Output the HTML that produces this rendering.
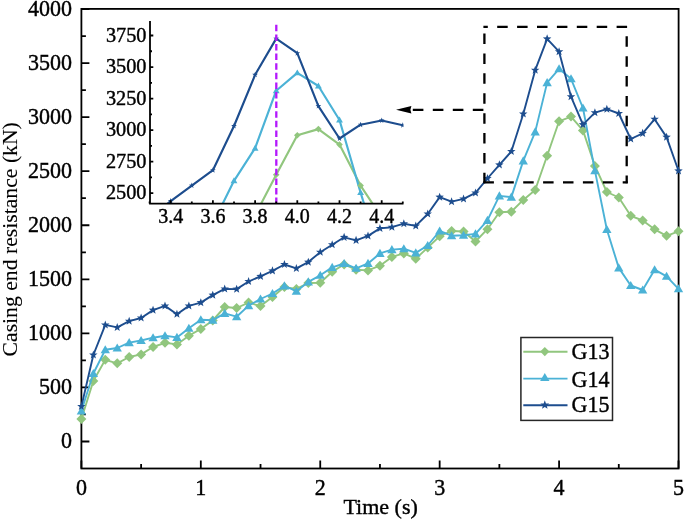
<!DOCTYPE html><html><head><meta charset="utf-8"><style>html,body{margin:0;padding:0;background:#fff;}svg{display:block;will-change:transform;}text{font-family:"Liberation Serif",serif;fill:#000;stroke:#000;stroke-width:0.4px;}</style></head><body>
<svg width="685" height="520" viewBox="0 0 685 520">
<rect width="685" height="520" fill="#fff"/>
<rect x="81.4" y="8.9" width="597.2" height="459.6" fill="none" stroke="#000" stroke-width="1.8"/>
<path d="M81.4 441.5H89.4M81.4 414.47H85.9M81.4 387.44H89.4M81.4 360.41H85.9M81.4 333.38H89.4M81.4 306.34H85.9M81.4 279.31H89.4M81.4 252.28H85.9M81.4 225.25H89.4M81.4 198.22H85.9M81.4 171.19H89.4M81.4 144.16H85.9M81.4 117.12H89.4M81.4 90.09H85.9M81.4 63.06H89.4M81.4 36.03H85.9M81.4 9H89.4M81.4 468.5V460.5M141.11 468.5V464M200.82 468.5V460.5M260.53 468.5V464M320.24 468.5V460.5M379.95 468.5V464M439.66 468.5V460.5M499.37 468.5V464M559.08 468.5V460.5M618.79 468.5V464M678.5 468.5V460.5" stroke="#000" stroke-width="1.8" fill="none"/>
<polyline fill="none" stroke-linejoin="round" stroke-width="1.9" stroke="#91c67e" points="81.4,419 93.34,381 105.28,359.8 117.23,363.3 129.17,357 141.11,354.4 153.05,347 164.99,342.8 176.94,344.4 188.88,335.8 200.82,328.9 212.76,320.5 224.7,307 236.65,308 248.59,302.6 260.53,306.1 272.47,297 284.41,287.1 296.36,288.9 308.3,283 320.24,282.7 332.18,271.7 344.12,264.4 356.07,269.7 368.01,270.4 379.95,265.7 391.89,256.9 403.83,253.4 415.78,258.7 427.72,247.6 439.66,236.2 451.6,231 463.54,231.5 475.49,241.5 487.43,229.2 499.37,212.2 511.31,211.7 523.25,199.9 535.2,190 547.14,155.8 559.08,121.3 571.02,116.6 582.96,130.4 594.91,165.9 606.85,192 618.79,197.5 630.73,215.8 642.67,220.5 654.62,229.3 666.56,235.8 678.5,231.3"/>
<g fill="#91c67e">
<path d="M81.4 414L86.4 419L81.4 424L76.4 419Z"/>
<path d="M93.34 376L98.34 381L93.34 386L88.34 381Z"/>
<path d="M105.28 354.8L110.28 359.8L105.28 364.8L100.28 359.8Z"/>
<path d="M117.23 358.3L122.23 363.3L117.23 368.3L112.23 363.3Z"/>
<path d="M129.17 352L134.17 357L129.17 362L124.17 357Z"/>
<path d="M141.11 349.4L146.11 354.4L141.11 359.4L136.11 354.4Z"/>
<path d="M153.05 342L158.05 347L153.05 352L148.05 347Z"/>
<path d="M164.99 337.8L169.99 342.8L164.99 347.8L159.99 342.8Z"/>
<path d="M176.94 339.4L181.94 344.4L176.94 349.4L171.94 344.4Z"/>
<path d="M188.88 330.8L193.88 335.8L188.88 340.8L183.88 335.8Z"/>
<path d="M200.82 323.9L205.82 328.9L200.82 333.9L195.82 328.9Z"/>
<path d="M212.76 315.5L217.76 320.5L212.76 325.5L207.76 320.5Z"/>
<path d="M224.7 302L229.7 307L224.7 312L219.7 307Z"/>
<path d="M236.65 303L241.65 308L236.65 313L231.65 308Z"/>
<path d="M248.59 297.6L253.59 302.6L248.59 307.6L243.59 302.6Z"/>
<path d="M260.53 301.1L265.53 306.1L260.53 311.1L255.53 306.1Z"/>
<path d="M272.47 292L277.47 297L272.47 302L267.47 297Z"/>
<path d="M284.41 282.1L289.41 287.1L284.41 292.1L279.41 287.1Z"/>
<path d="M296.36 283.9L301.36 288.9L296.36 293.9L291.36 288.9Z"/>
<path d="M308.3 278L313.3 283L308.3 288L303.3 283Z"/>
<path d="M320.24 277.7L325.24 282.7L320.24 287.7L315.24 282.7Z"/>
<path d="M332.18 266.7L337.18 271.7L332.18 276.7L327.18 271.7Z"/>
<path d="M344.12 259.4L349.12 264.4L344.12 269.4L339.12 264.4Z"/>
<path d="M356.07 264.7L361.07 269.7L356.07 274.7L351.07 269.7Z"/>
<path d="M368.01 265.4L373.01 270.4L368.01 275.4L363.01 270.4Z"/>
<path d="M379.95 260.7L384.95 265.7L379.95 270.7L374.95 265.7Z"/>
<path d="M391.89 251.9L396.89 256.9L391.89 261.9L386.89 256.9Z"/>
<path d="M403.83 248.4L408.83 253.4L403.83 258.4L398.83 253.4Z"/>
<path d="M415.78 253.7L420.78 258.7L415.78 263.7L410.78 258.7Z"/>
<path d="M427.72 242.6L432.72 247.6L427.72 252.6L422.72 247.6Z"/>
<path d="M439.66 231.2L444.66 236.2L439.66 241.2L434.66 236.2Z"/>
<path d="M451.6 226L456.6 231L451.6 236L446.6 231Z"/>
<path d="M463.54 226.5L468.54 231.5L463.54 236.5L458.54 231.5Z"/>
<path d="M475.49 236.5L480.49 241.5L475.49 246.5L470.49 241.5Z"/>
<path d="M487.43 224.2L492.43 229.2L487.43 234.2L482.43 229.2Z"/>
<path d="M499.37 207.2L504.37 212.2L499.37 217.2L494.37 212.2Z"/>
<path d="M511.31 206.7L516.31 211.7L511.31 216.7L506.31 211.7Z"/>
<path d="M523.25 194.9L528.25 199.9L523.25 204.9L518.25 199.9Z"/>
<path d="M535.2 185L540.2 190L535.2 195L530.2 190Z"/>
<path d="M547.14 150.8L552.14 155.8L547.14 160.8L542.14 155.8Z"/>
<path d="M559.08 116.3L564.08 121.3L559.08 126.3L554.08 121.3Z"/>
<path d="M571.02 111.6L576.02 116.6L571.02 121.6L566.02 116.6Z"/>
<path d="M582.96 125.4L587.96 130.4L582.96 135.4L577.96 130.4Z"/>
<path d="M594.91 160.9L599.91 165.9L594.91 170.9L589.91 165.9Z"/>
<path d="M606.85 187L611.85 192L606.85 197L601.85 192Z"/>
<path d="M618.79 192.5L623.79 197.5L618.79 202.5L613.79 197.5Z"/>
<path d="M630.73 210.8L635.73 215.8L630.73 220.8L625.73 215.8Z"/>
<path d="M642.67 215.5L647.67 220.5L642.67 225.5L637.67 220.5Z"/>
<path d="M654.62 224.3L659.62 229.3L654.62 234.3L649.62 229.3Z"/>
<path d="M666.56 230.8L671.56 235.8L666.56 240.8L661.56 235.8Z"/>
<path d="M678.5 226.3L683.5 231.3L678.5 236.3L673.5 231.3Z"/>
</g>
<polyline fill="none" stroke-linejoin="round" stroke-width="1.9" stroke="#4bb2d6" points="81.4,411 93.34,373.5 105.28,349.8 117.23,348 129.17,342.6 141.11,340.5 153.05,337.7 164.99,335.8 176.94,337.4 188.88,328.3 200.82,319.7 212.76,320.2 224.7,313.4 236.65,316.7 248.59,305.6 260.53,299 272.47,293.5 284.41,285.9 296.36,291.2 308.3,281.9 320.24,275.3 332.18,267.4 344.12,263.5 356.07,268.3 368.01,263.4 379.95,253.4 391.89,249.6 403.83,248.7 415.78,252.9 427.72,245.5 439.66,231 451.6,235.7 463.54,235.3 475.49,233.9 487.43,220.4 499.37,195.9 511.31,197.1 523.25,160.9 535.2,131.9 547.14,82.6 559.08,68.8 571.02,78.8 582.96,108 594.91,170.6 606.85,229.5 618.79,267.9 630.73,285.5 642.67,290 654.62,269.7 666.56,276.3 678.5,288.8"/>
<g fill="#4bb2d6">
<path d="M81.4 406.45L86.08 414.55L76.72 414.55Z"/>
<path d="M93.34 368.95L98.02 377.05L88.66 377.05Z"/>
<path d="M105.28 345.25L109.96 353.35L100.6 353.35Z"/>
<path d="M117.23 343.45L121.91 351.55L112.55 351.55Z"/>
<path d="M129.17 338.05L133.85 346.15L124.49 346.15Z"/>
<path d="M141.11 335.95L145.79 344.05L136.43 344.05Z"/>
<path d="M153.05 333.15L157.73 341.25L148.37 341.25Z"/>
<path d="M164.99 331.25L169.67 339.35L160.31 339.35Z"/>
<path d="M176.94 332.85L181.62 340.95L172.26 340.95Z"/>
<path d="M188.88 323.75L193.56 331.85L184.2 331.85Z"/>
<path d="M200.82 315.15L205.5 323.25L196.14 323.25Z"/>
<path d="M212.76 315.65L217.44 323.75L208.08 323.75Z"/>
<path d="M224.7 308.85L229.38 316.95L220.02 316.95Z"/>
<path d="M236.65 312.15L241.33 320.25L231.97 320.25Z"/>
<path d="M248.59 301.05L253.27 309.15L243.91 309.15Z"/>
<path d="M260.53 294.45L265.21 302.55L255.85 302.55Z"/>
<path d="M272.47 288.95L277.15 297.05L267.79 297.05Z"/>
<path d="M284.41 281.35L289.09 289.45L279.73 289.45Z"/>
<path d="M296.36 286.65L301.04 294.75L291.68 294.75Z"/>
<path d="M308.3 277.35L312.98 285.45L303.62 285.45Z"/>
<path d="M320.24 270.75L324.92 278.85L315.56 278.85Z"/>
<path d="M332.18 262.85L336.86 270.95L327.5 270.95Z"/>
<path d="M344.12 258.95L348.8 267.05L339.44 267.05Z"/>
<path d="M356.07 263.75L360.75 271.85L351.39 271.85Z"/>
<path d="M368.01 258.85L372.69 266.95L363.33 266.95Z"/>
<path d="M379.95 248.85L384.63 256.95L375.27 256.95Z"/>
<path d="M391.89 245.05L396.57 253.15L387.21 253.15Z"/>
<path d="M403.83 244.15L408.51 252.25L399.15 252.25Z"/>
<path d="M415.78 248.35L420.46 256.45L411.1 256.45Z"/>
<path d="M427.72 240.95L432.4 249.05L423.04 249.05Z"/>
<path d="M439.66 226.45L444.34 234.55L434.98 234.55Z"/>
<path d="M451.6 231.15L456.28 239.25L446.92 239.25Z"/>
<path d="M463.54 230.75L468.22 238.85L458.86 238.85Z"/>
<path d="M475.49 229.35L480.17 237.45L470.81 237.45Z"/>
<path d="M487.43 215.85L492.11 223.95L482.75 223.95Z"/>
<path d="M499.37 191.35L504.05 199.45L494.69 199.45Z"/>
<path d="M511.31 192.55L515.99 200.65L506.63 200.65Z"/>
<path d="M523.25 156.35L527.93 164.45L518.57 164.45Z"/>
<path d="M535.2 127.35L539.88 135.45L530.52 135.45Z"/>
<path d="M547.14 78.05L551.82 86.15L542.46 86.15Z"/>
<path d="M559.08 64.25L563.76 72.35L554.4 72.35Z"/>
<path d="M571.02 74.25L575.7 82.35L566.34 82.35Z"/>
<path d="M582.96 103.45L587.64 111.55L578.28 111.55Z"/>
<path d="M594.91 166.05L599.59 174.15L590.23 174.15Z"/>
<path d="M606.85 224.95L611.53 233.05L602.17 233.05Z"/>
<path d="M618.79 263.35L623.47 271.45L614.11 271.45Z"/>
<path d="M630.73 280.95L635.41 289.05L626.05 289.05Z"/>
<path d="M642.67 285.45L647.35 293.55L637.99 293.55Z"/>
<path d="M654.62 265.15L659.3 273.25L649.94 273.25Z"/>
<path d="M666.56 271.75L671.24 279.85L661.88 279.85Z"/>
<path d="M678.5 284.25L683.18 292.35L673.82 292.35Z"/>
</g>
<polyline fill="none" stroke-linejoin="round" stroke-width="1.9" stroke="#1d4d8e" points="81.4,406.4 93.34,355 105.28,324.9 117.23,327.4 129.17,321.2 141.11,318 153.05,310.1 164.99,305.9 176.94,314.2 188.88,305.9 200.82,302.6 212.76,295.1 224.7,288.9 236.65,289.1 248.59,281.5 260.53,276.3 272.47,270.8 284.41,264.5 296.36,268.4 308.3,262.1 320.24,252.2 332.18,244.7 344.12,237.3 356.07,240.3 368.01,235.9 379.95,228.4 391.89,227.2 403.83,223.7 415.78,225.9 427.72,214 439.66,197.1 451.6,201.7 463.54,198.9 475.49,192.9 487.43,178.5 499.37,164.8 511.31,151.5 523.25,114 535.2,70.2 547.14,38.8 559.08,51.7 571.02,96.7 582.96,124.6 594.91,112.7 606.85,109.2 618.79,113.5 630.73,139 642.67,133.3 654.62,119.2 666.56,137.1 678.5,170.8"/>
<g fill="#1d4d8e">
<path d="M81.4 401.95L82.5 404.89L85.63 405.02L83.18 406.98L84.02 410L81.4 408.27L78.78 410L79.62 406.98L77.17 405.02L80.3 404.89Z"/>
<path d="M93.34 350.55L94.44 353.49L97.57 353.62L95.12 355.58L95.96 358.6L93.34 356.87L90.73 358.6L91.56 355.58L89.11 353.62L92.24 353.49Z"/>
<path d="M105.28 320.45L106.38 323.39L109.52 323.52L107.06 325.48L107.9 328.5L105.28 326.77L102.67 328.5L103.51 325.48L101.05 323.52L104.19 323.39Z"/>
<path d="M117.23 322.95L118.32 325.89L121.46 326.02L119 327.98L119.84 331L117.23 329.27L114.61 331L115.45 327.98L112.99 326.02L116.13 325.89Z"/>
<path d="M129.17 316.75L130.27 319.69L133.4 319.82L130.95 321.78L131.78 324.8L129.17 323.07L126.55 324.8L127.39 321.78L124.94 319.82L128.07 319.69Z"/>
<path d="M141.11 313.55L142.21 316.49L145.34 316.62L142.89 318.58L143.73 321.6L141.11 319.87L138.49 321.6L139.33 318.58L136.88 316.62L140.01 316.49Z"/>
<path d="M153.05 305.65L154.15 308.59L157.28 308.72L154.83 310.68L155.67 313.7L153.05 311.97L150.44 313.7L151.27 310.68L148.82 308.72L151.95 308.59Z"/>
<path d="M164.99 301.45L166.09 304.39L169.23 304.52L166.77 306.48L167.61 309.5L164.99 307.77L162.38 309.5L163.22 306.48L160.76 304.52L163.9 304.39Z"/>
<path d="M176.94 309.75L178.03 312.69L181.17 312.82L178.71 314.78L179.55 317.8L176.94 316.07L174.32 317.8L175.16 314.78L172.7 312.82L175.84 312.69Z"/>
<path d="M188.88 301.45L189.98 304.39L193.11 304.52L190.66 306.48L191.49 309.5L188.88 307.77L186.26 309.5L187.1 306.48L184.65 304.52L187.78 304.39Z"/>
<path d="M200.82 298.15L201.92 301.09L205.05 301.22L202.6 303.18L203.44 306.2L200.82 304.47L198.2 306.2L199.04 303.18L196.59 301.22L199.72 301.09Z"/>
<path d="M212.76 290.65L213.86 293.59L216.99 293.72L214.54 295.68L215.38 298.7L212.76 296.97L210.15 298.7L210.98 295.68L208.53 293.72L211.66 293.59Z"/>
<path d="M224.7 284.45L225.8 287.39L228.94 287.52L226.48 289.48L227.32 292.5L224.7 290.77L222.09 292.5L222.93 289.48L220.47 287.52L223.61 287.39Z"/>
<path d="M236.65 284.65L237.74 287.59L240.88 287.72L238.42 289.68L239.26 292.7L236.65 290.97L234.03 292.7L234.87 289.68L232.41 287.72L235.55 287.59Z"/>
<path d="M248.59 277.05L249.69 279.99L252.82 280.12L250.37 282.08L251.2 285.1L248.59 283.37L245.97 285.1L246.81 282.08L244.36 280.12L247.49 279.99Z"/>
<path d="M260.53 271.85L261.63 274.79L264.76 274.92L262.31 276.88L263.15 279.9L260.53 278.17L257.91 279.9L258.75 276.88L256.3 274.92L259.43 274.79Z"/>
<path d="M272.47 266.35L273.57 269.29L276.7 269.42L274.25 271.38L275.09 274.4L272.47 272.67L269.86 274.4L270.69 271.38L268.24 269.42L271.37 269.29Z"/>
<path d="M284.41 260.05L285.51 262.99L288.65 263.12L286.19 265.08L287.03 268.1L284.41 266.37L281.8 268.1L282.64 265.08L280.18 263.12L283.32 262.99Z"/>
<path d="M296.36 263.95L297.45 266.89L300.59 267.02L298.13 268.98L298.97 272L296.36 270.27L293.74 272L294.58 268.98L292.12 267.02L295.26 266.89Z"/>
<path d="M308.3 257.65L309.4 260.59L312.53 260.72L310.08 262.68L310.91 265.7L308.3 263.97L305.68 265.7L306.52 262.68L304.07 260.72L307.2 260.59Z"/>
<path d="M320.24 247.75L321.34 250.69L324.47 250.82L322.02 252.78L322.86 255.8L320.24 254.07L317.62 255.8L318.46 252.78L316.01 250.82L319.14 250.69Z"/>
<path d="M332.18 240.25L333.28 243.19L336.41 243.32L333.96 245.28L334.8 248.3L332.18 246.57L329.57 248.3L330.4 245.28L327.95 243.32L331.08 243.19Z"/>
<path d="M344.12 232.85L345.22 235.79L348.36 235.92L345.9 237.88L346.74 240.9L344.12 239.17L341.51 240.9L342.35 237.88L339.89 235.92L343.03 235.79Z"/>
<path d="M356.07 235.85L357.16 238.79L360.3 238.92L357.84 240.88L358.68 243.9L356.07 242.17L353.45 243.9L354.29 240.88L351.83 238.92L354.97 238.79Z"/>
<path d="M368.01 231.45L369.11 234.39L372.24 234.52L369.79 236.48L370.62 239.5L368.01 237.77L365.39 239.5L366.23 236.48L363.78 234.52L366.91 234.39Z"/>
<path d="M379.95 223.95L381.05 226.89L384.18 227.02L381.73 228.98L382.57 232L379.95 230.27L377.33 232L378.17 228.98L375.72 227.02L378.85 226.89Z"/>
<path d="M391.89 222.75L392.99 225.69L396.12 225.82L393.67 227.78L394.51 230.8L391.89 229.07L389.28 230.8L390.11 227.78L387.66 225.82L390.79 225.69Z"/>
<path d="M403.83 219.25L404.93 222.19L408.07 222.32L405.61 224.28L406.45 227.3L403.83 225.57L401.22 227.3L402.06 224.28L399.6 222.32L402.74 222.19Z"/>
<path d="M415.78 221.45L416.87 224.39L420.01 224.52L417.55 226.48L418.39 229.5L415.78 227.77L413.16 229.5L414 226.48L411.54 224.52L414.68 224.39Z"/>
<path d="M427.72 209.55L428.82 212.49L431.95 212.62L429.5 214.58L430.33 217.6L427.72 215.87L425.1 217.6L425.94 214.58L423.49 212.62L426.62 212.49Z"/>
<path d="M439.66 192.65L440.76 195.59L443.89 195.72L441.44 197.68L442.28 200.7L439.66 198.97L437.04 200.7L437.88 197.68L435.43 195.72L438.56 195.59Z"/>
<path d="M451.6 197.25L452.7 200.19L455.83 200.32L453.38 202.28L454.22 205.3L451.6 203.57L448.99 205.3L449.82 202.28L447.37 200.32L450.5 200.19Z"/>
<path d="M463.54 194.45L464.64 197.39L467.78 197.52L465.32 199.48L466.16 202.5L463.54 200.77L460.93 202.5L461.77 199.48L459.31 197.52L462.45 197.39Z"/>
<path d="M475.49 188.45L476.58 191.39L479.72 191.52L477.26 193.48L478.1 196.5L475.49 194.77L472.87 196.5L473.71 193.48L471.25 191.52L474.39 191.39Z"/>
<path d="M487.43 174.05L488.53 176.99L491.66 177.12L489.21 179.08L490.04 182.1L487.43 180.37L484.81 182.1L485.65 179.08L483.2 177.12L486.33 176.99Z"/>
<path d="M499.37 160.35L500.47 163.29L503.6 163.42L501.15 165.38L501.99 168.4L499.37 166.67L496.75 168.4L497.59 165.38L495.14 163.42L498.27 163.29Z"/>
<path d="M511.31 147.05L512.41 149.99L515.54 150.12L513.09 152.08L513.93 155.1L511.31 153.37L508.7 155.1L509.53 152.08L507.08 150.12L510.21 149.99Z"/>
<path d="M523.25 109.55L524.35 112.49L527.49 112.62L525.03 114.58L525.87 117.6L523.25 115.87L520.64 117.6L521.48 114.58L519.02 112.62L522.16 112.49Z"/>
<path d="M535.2 65.75L536.29 68.69L539.43 68.82L536.97 70.78L537.81 73.8L535.2 72.07L532.58 73.8L533.42 70.78L530.96 68.82L534.1 68.69Z"/>
<path d="M547.14 34.35L548.24 37.29L551.37 37.42L548.92 39.38L549.75 42.4L547.14 40.67L544.52 42.4L545.36 39.38L542.91 37.42L546.04 37.29Z"/>
<path d="M559.08 47.25L560.18 50.19L563.31 50.32L560.86 52.28L561.7 55.3L559.08 53.57L556.46 55.3L557.3 52.28L554.85 50.32L557.98 50.19Z"/>
<path d="M571.02 92.25L572.12 95.19L575.25 95.32L572.8 97.28L573.64 100.3L571.02 98.57L568.41 100.3L569.24 97.28L566.79 95.32L569.92 95.19Z"/>
<path d="M582.96 120.15L584.06 123.09L587.2 123.22L584.74 125.18L585.58 128.2L582.96 126.47L580.35 128.2L581.19 125.18L578.73 123.22L581.87 123.09Z"/>
<path d="M594.91 108.25L596 111.19L599.14 111.32L596.68 113.28L597.52 116.3L594.91 114.57L592.29 116.3L593.13 113.28L590.67 111.32L593.81 111.19Z"/>
<path d="M606.85 104.75L607.95 107.69L611.08 107.82L608.63 109.78L609.46 112.8L606.85 111.07L604.23 112.8L605.07 109.78L602.62 107.82L605.75 107.69Z"/>
<path d="M618.79 109.05L619.89 111.99L623.02 112.12L620.57 114.08L621.41 117.1L618.79 115.37L616.17 117.1L617.01 114.08L614.56 112.12L617.69 111.99Z"/>
<path d="M630.73 134.55L631.83 137.49L634.96 137.62L632.51 139.58L633.35 142.6L630.73 140.87L628.12 142.6L628.95 139.58L626.5 137.62L629.63 137.49Z"/>
<path d="M642.67 128.85L643.77 131.79L646.91 131.92L644.45 133.88L645.29 136.9L642.67 135.17L640.06 136.9L640.9 133.88L638.44 131.92L641.58 131.79Z"/>
<path d="M654.62 114.75L655.71 117.69L658.85 117.82L656.39 119.78L657.23 122.8L654.62 121.07L652 122.8L652.84 119.78L650.38 117.82L653.52 117.69Z"/>
<path d="M666.56 132.65L667.66 135.59L670.79 135.72L668.34 137.68L669.17 140.7L666.56 138.97L663.94 140.7L664.78 137.68L662.33 135.72L665.46 135.59Z"/>
<path d="M678.5 166.35L679.6 169.29L682.73 169.42L680.28 171.38L681.12 174.4L678.5 172.67L675.88 174.4L676.72 171.38L674.27 169.42L677.4 169.29Z"/>
</g>
<g font-size="22" text-anchor="end" style="stroke-width:0.55px">
<text transform="translate(72 448.1) scale(1 1.04)">0</text>
<text transform="translate(72 394.04) scale(1 1.04)">500</text>
<text transform="translate(72 339.98) scale(1 1.04)">1000</text>
<text transform="translate(72 285.91) scale(1 1.04)">1500</text>
<text transform="translate(72 231.85) scale(1 1.04)">2000</text>
<text transform="translate(72 177.79) scale(1 1.04)">2500</text>
<text transform="translate(72 123.72) scale(1 1.04)">3000</text>
<text transform="translate(72 69.66) scale(1 1.04)">3500</text>
<text transform="translate(72 15.6) scale(1 1.04)">4000</text>
</g>
<g font-size="22" text-anchor="middle">
<text transform="translate(81.4 495) scale(1 1.06)">0</text>
<text transform="translate(200.82 495) scale(1 1.06)">1</text>
<text transform="translate(320.24 495) scale(1 1.06)">2</text>
<text transform="translate(439.66 495) scale(1 1.06)">3</text>
<text transform="translate(559.08 495) scale(1 1.06)">4</text>
<text transform="translate(678.5 495) scale(1 1.06)">5</text>
</g>
<text font-size="22" text-anchor="middle" x="380.6" y="514.3" style="stroke-width:0.4px">Time (s)</text>
<text font-size="21.7" text-anchor="middle" style="stroke-width:0.1px" transform="translate(16.6 239.3) rotate(-90)">Casing end resistance (kN)</text>
<g stroke="#000" stroke-width="2.3" fill="none">
<path d="M627.1 26.85H483.4" stroke-dasharray="10.5 9.4"/>
<path d="M484.4 183.35V26.85" stroke-dasharray="10.5 9.4"/>
<path d="M483.4 182.35H627.7" stroke-dasharray="10.5 9.4"/>
<path d="M626.7 26.85V183.35" stroke-dasharray="10.5 9.4" stroke-dashoffset="10.5"/>
<path d="M483.4 109.8H411" stroke-width="2.2" stroke-dasharray="10.6 9.4"/>
</g>
<path d="M396 109.8L411.4 106L410.4 109.8L411.4 113.6Z" fill="#000"/>
<defs><clipPath id="ic"><rect x="150" y="16" width="253.5" height="187.6"/></clipPath></defs>
<g clip-path="url(#ic)" fill="none" stroke-width="2.15" stroke-linejoin="round">
<polyline stroke="#91c67e" points="149.6,275.24 170.7,260.89 191.8,241.05 212.9,240.47 234,226.7 255.1,215.15 276.2,174.8 297.3,135.3 318.4,129.1 339.5,144.6 360.6,185.6 381.7,217.48 402.8,223.9"/>
<polyline stroke="#4bb2d6" points="149.6,266.37 170.7,250.62 191.8,222.03 212.9,223.43 234,180.8 255.1,148.2 276.2,90.7 297.3,72.9 318.4,86 339.5,120 360.6,192.6 381.7,261.24 402.8,306.04"/>
<polyline stroke="#1d4d8e" points="149.6,218.53 170.7,201.1 191.8,185.6 212.9,170.2 234,126 255.1,74.8 276.2,38.6 297.3,53.2 318.4,106.1 339.5,138.5 360.6,124.7 381.7,120.5 402.8,125.3"/>
</g>
<g clip-path="url(#ic)">
<g fill="#91c67e">
<path d="M276.2 171.5L279.5 174.8L276.2 178.1L272.9 174.8Z"/>
<path d="M297.3 132L300.6 135.3L297.3 138.6L294 135.3Z"/>
<path d="M318.4 125.8L321.7 129.1L318.4 132.4L315.1 129.1Z"/>
<path d="M339.5 141.3L342.8 144.6L339.5 147.9L336.2 144.6Z"/>
<path d="M360.6 182.3L363.9 185.6L360.6 188.9L357.3 185.6Z"/>
</g>
<g fill="#4bb2d6">
<path d="M234 177.33L237.43 183.27L230.57 183.27Z"/>
<path d="M255.1 144.73L258.53 150.67L251.67 150.67Z"/>
<path d="M276.2 87.23L279.63 93.17L272.77 93.17Z"/>
<path d="M297.3 69.43L300.73 75.37L293.87 75.37Z"/>
<path d="M318.4 82.53L321.83 88.47L314.97 88.47Z"/>
<path d="M339.5 116.53L342.93 122.47L336.07 122.47Z"/>
<path d="M360.6 189.13L364.03 195.07L357.17 195.07Z"/>
</g>
<g fill="#1d4d8e">
<path d="M170.7 198.1L171.44 200.08L173.55 200.17L171.9 201.49L172.46 203.53L170.7 202.36L168.94 203.53L169.5 201.49L167.85 200.17L169.96 200.08Z"/>
<path d="M191.8 182.6L192.54 184.58L194.65 184.67L193 185.99L193.56 188.03L191.8 186.86L190.04 188.03L190.6 185.99L188.95 184.67L191.06 184.58Z"/>
<path d="M212.9 167.2L213.64 169.18L215.75 169.27L214.1 170.59L214.66 172.63L212.9 171.46L211.14 172.63L211.7 170.59L210.05 169.27L212.16 169.18Z"/>
<path d="M234 123L234.74 124.98L236.85 125.07L235.2 126.39L235.76 128.43L234 127.26L232.24 128.43L232.8 126.39L231.15 125.07L233.26 124.98Z"/>
<path d="M255.1 71.8L255.84 73.78L257.95 73.87L256.3 75.19L256.86 77.23L255.1 76.06L253.34 77.23L253.9 75.19L252.25 73.87L254.36 73.78Z"/>
<path d="M276.2 35.6L276.94 37.58L279.05 37.67L277.4 38.99L277.96 41.03L276.2 39.86L274.44 41.03L275 38.99L273.35 37.67L275.46 37.58Z"/>
<path d="M297.3 50.2L298.04 52.18L300.15 52.27L298.5 53.59L299.06 55.63L297.3 54.46L295.54 55.63L296.1 53.59L294.45 52.27L296.56 52.18Z"/>
<path d="M318.4 103.1L319.14 105.08L321.25 105.17L319.6 106.49L320.16 108.53L318.4 107.36L316.64 108.53L317.2 106.49L315.55 105.17L317.66 105.08Z"/>
<path d="M339.5 135.5L340.24 137.48L342.35 137.57L340.7 138.89L341.26 140.93L339.5 139.76L337.74 140.93L338.3 138.89L336.65 137.57L338.76 137.48Z"/>
<path d="M360.6 121.7L361.34 123.68L363.45 123.77L361.8 125.09L362.36 127.13L360.6 125.96L358.84 127.13L359.4 125.09L357.75 123.77L359.86 123.68Z"/>
<path d="M381.7 117.5L382.44 119.48L384.55 119.57L382.9 120.89L383.46 122.93L381.7 121.76L379.94 122.93L380.5 120.89L378.85 119.57L380.96 119.48Z"/>
<path d="M402.8 122.3L403.54 124.28L405.65 124.37L404 125.69L404.56 127.73L402.8 126.56L401.04 127.73L401.6 125.69L399.95 124.37L402.06 124.28Z"/>
</g>
</g>
<path d="M276.3 24.8V205" stroke="#b318fc" stroke-width="2.3" stroke-dasharray="6.5 3.1" fill="none"/>
<path d="M150 21V203.6H403.5M150 193.2H153.3M150 177.43H152M150 161.66H153.3M150 145.89H152M150 130.12H153.3M150 114.35H152M150 98.58H153.3M150 82.81H152M150 67.04H153.3M150 51.27H152M150 35.5H153.3M149.6 203.6V201.6M170.7 203.6V200.3M191.8 203.6V201.6M212.9 203.6V200.3M234 203.6V201.6M255.1 203.6V200.3M276.2 203.6V201.6M297.3 203.6V200.3M318.4 203.6V201.6M339.5 203.6V200.3M360.6 203.6V201.6M381.7 203.6V200.3M402.8 203.6V201.6" stroke="#000" stroke-width="1.8" fill="none"/>
<g font-size="20.3" text-anchor="end" style="stroke-width:0.75px">
<text transform="translate(146.5 199.3) scale(1 1.06)">2500</text>
<text transform="translate(146.5 167.76) scale(1 1.06)">2750</text>
<text transform="translate(146.5 136.22) scale(1 1.06)">3000</text>
<text transform="translate(146.5 104.68) scale(1 1.06)">3250</text>
<text transform="translate(146.5 73.14) scale(1 1.06)">3500</text>
<text transform="translate(146.5 41.6) scale(1 1.06)">3750</text>
</g>
<g font-size="20" text-anchor="middle" style="stroke-width:0.75px">
<text transform="translate(170.7 223.4) scale(1 1.06)">3.4</text>
<text transform="translate(212.9 223.4) scale(1 1.06)">3.6</text>
<text transform="translate(255.1 223.4) scale(1 1.06)">3.8</text>
<text transform="translate(297.3 223.4) scale(1 1.06)">4.0</text>
<text transform="translate(339.5 223.4) scale(1 1.06)">4.2</text>
<text transform="translate(381.7 223.4) scale(1 1.06)">4.4</text>
</g>
<rect x="520.9" y="337.5" width="91.6" height="82.9" fill="#fff" stroke="#262626" stroke-width="1.5"/>
<path d="M523.3 351.8H567.5" stroke="#91c67e" stroke-width="1.9"/>
<g fill="#91c67e"><path d="M544.8 347L549.4 351.6L544.8 356.2L540.2 351.6Z"/></g>
<text font-size="22" transform="translate(571.5 359.2) scale(1 1.05)">G13</text>
<path d="M523.3 378.6H567.5" stroke="#4bb2d6" stroke-width="1.9"/>
<g fill="#4bb2d6"><path d="M544.8 372.95L549.48 381.05L540.12 381.05Z"/></g>
<text font-size="22" transform="translate(571.5 386.8) scale(1 1.05)">G14</text>
<path d="M523.3 405.3H567.5" stroke="#1d4d8e" stroke-width="1.9"/>
<g fill="#1d4d8e"><path d="M544.8 400.3L545.96 403.4L549.27 403.55L546.68 405.61L547.56 408.8L544.8 406.97L542.04 408.8L542.92 405.61L540.33 403.55L543.64 403.4Z"/></g>
<text font-size="22" transform="translate(571.5 412.4) scale(1 1.05)">G15</text>
</svg></body></html>
